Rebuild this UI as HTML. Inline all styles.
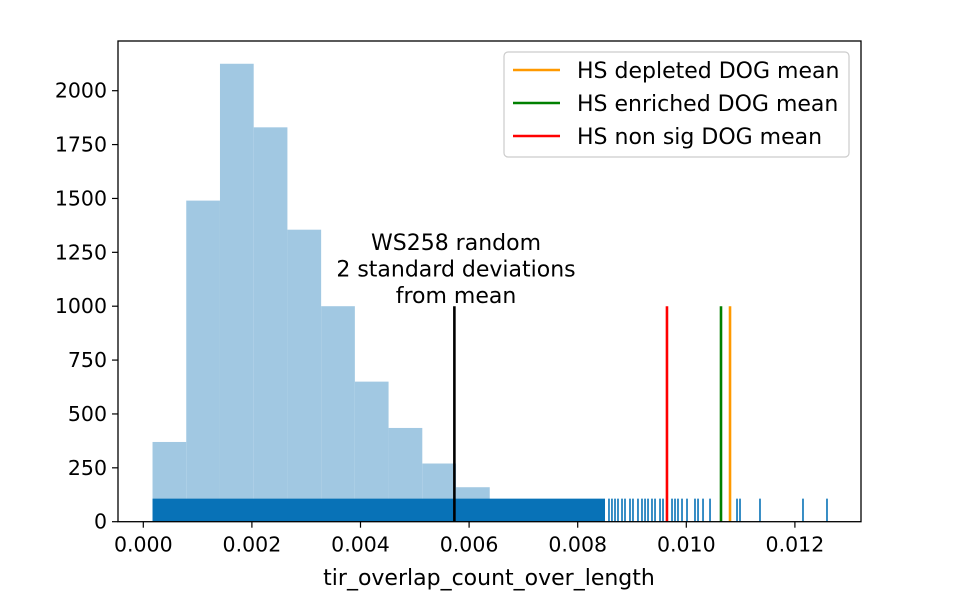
<!DOCTYPE html>
<html><head><meta charset="utf-8"><style>
body{margin:0;background:#fff;}
svg text{font-family:"DejaVu Sans","Liberation Sans",sans-serif;fill:#000;}
</style></head><body>
<svg id="chart" width="955" height="600" viewBox="0 0 955 600" xmlns="http://www.w3.org/2000/svg"></svg>
<script>
const binStart = 0.00017;
const binWidth = 0.000621;
const binCounts = [370, 1490, 2125, 1830, 1355, 1000, 650, 435, 270, 160];
const rugDenseRange = [0.00017, 0.008503];
const rugValues = [0.008576,0.008631,0.008687,0.008742,0.008816,0.008871,0.008963,0.009018,0.009110,0.009184,0.009240,0.009295,0.009368,0.009424,0.009516,0.009571,0.009737,0.009792,0.009847,0.009921,0.010013,0.010160,0.010216,0.010308,0.010437,0.010934,0.010989,0.011357,0.012149,0.012591];
const rugHeight = 107;
const randomLine = 0.005729;
const randomLineHeight = 1000;
const meanNames = ["HS depleted DOG mean","HS enriched DOG mean","HS non sig DOG mean"];
const meanValues = [0.010805, 0.010639, 0.009644];
const meanColors = ["#ff9900","#008000","#ff0000"];
const xTicks = [0, 0.002, 0.004, 0.006, 0.008, 0.010, 0.012];
const xTickLabels = ["0.000","0.002","0.004","0.006","0.008","0.010","0.012"];
const yTicks = [0, 250, 500, 750, 1000, 1250, 1500, 1750, 2000];

const L=118,R=861,T=41,B=521.7;
const X=v=>143.3+v*54300;
const Y=v=>B-v*0.2155;
const svg=document.getElementById('chart');
const NS="http://www.w3.org/2000/svg";
function mk(tag,attrs,parent){const e=document.createElementNS(NS,tag);for(const k in attrs)e.setAttribute(k,attrs[k]);(parent||svg).appendChild(e);return e;}

binCounts.forEach((c,i)=>{
  const x0=X(binStart+i*binWidth),x1=X(binStart+(i+1)*binWidth);
  const r=mk('rect',{x:x0,y:Y(c),width:x1-x0,height:B-Y(c),fill:'#a1c8e2'});
  
  
});
const dr=mk('rect',{x:X(rugDenseRange[0]),y:Y(rugHeight),width:X(rugDenseRange[1])-X(rugDenseRange[0]),height:B-Y(rugHeight),fill:'#0872b7'});


rugValues.forEach(v=>{
  const l=mk('line',{x1:X(v),x2:X(v),y1:Y(rugHeight),y2:B,stroke:'#0872b7','stroke-width':1.6});
  
  
});
const bl=mk('line',{x1:X(randomLine),x2:X(randomLine),y1:Y(randomLineHeight),y2:B,stroke:'#000','stroke-width':2.6});


meanValues.forEach((v,i)=>{
  const l=mk('line',{x1:X(v),x2:X(v),y1:Y(randomLineHeight),y2:B,stroke:meanColors[i],'stroke-width':2.6});
  
  
});
const ann=["WS258 random","2 standard deviations","from mean"];
ann.forEach((t,i)=>{
  const e=mk('text',{x:456,y:250+i*26.5,'text-anchor':'middle','font-size':22});
  e.textContent=t;
  
  
});
const frame=mk('rect',{x:L,y:T,width:R-L,height:B-T,fill:'none',stroke:'#000','stroke-width':1.3});


xTicks.forEach((v,i)=>{
  mk('line',{x1:X(v),x2:X(v),y1:B,y2:B+6,stroke:'#000','stroke-width':1.2});
  const t=mk('text',{x:X(v),y:B+30,'text-anchor':'middle','font-size':20.5});
  t.textContent=xTickLabels[i];
  
  
});
yTicks.forEach(v=>{
  mk('line',{x1:L-6,x2:L,y1:Y(v),y2:Y(v),stroke:'#000','stroke-width':1.2});
  const t=mk('text',{x:L-11,y:Y(v)+7,'text-anchor':'end','font-size':20.5});
  t.textContent=String(v);
  
  
});
const xt=mk('text',{x:489,y:585,'text-anchor':'middle','font-size':22});
xt.textContent="tir_overlap_count_over_length";


const lg=mk('g',{});


mk('rect',{x:504,y:52,width:345,height:105,rx:4,fill:'#fff','fill-opacity':0.85,stroke:'#ccc','stroke-width':1.2},lg);
meanNames.forEach((n,i)=>{
  const y=70+i*33;
  mk('line',{x1:513,x2:560,y1:y,y2:y,stroke:meanColors[i],'stroke-width':2.6},lg);
  const t=mk('text',{x:577,y:y+8,'font-size':22},lg);
  t.textContent=n;
  
  
});
</script>
</body></html>
